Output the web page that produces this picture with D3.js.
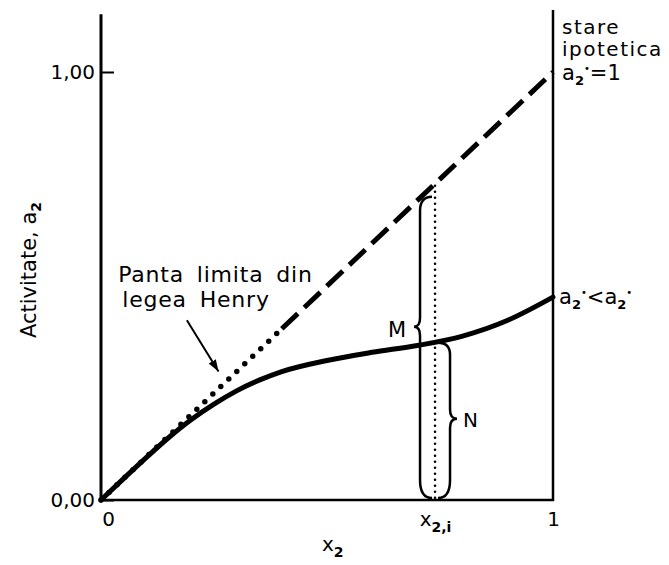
<!DOCTYPE html>
<html>
<head>
<meta charset="utf-8">
<script src="https://cdnjs.cloudflare.com/ajax/libs/d3/7.8.5/d3.min.js"></script>
<style>
  body { margin: 0; background: #fff; }
  text { font-family: "DejaVu Sans", sans-serif; fill: #000; }
</style>
</head>
<body>
<div id="chart"></div>
<script>
var xVals = [0, 0.05, 0.10, 0.15, 0.20, 0.25, 0.30, 0.35, 0.40, 0.50, 0.60, 0.70, 0.80, 0.90, 1.00];
var aVals = [0, 0.05, 0.099, 0.146, 0.188, 0.224, 0.255, 0.28, 0.30, 0.326, 0.345, 0.361, 0.383, 0.420, 0.474];
// Henry limiting slope: dotted part, then dashed part up to the hypothetical state
var henryDotted = [0, 0.40];
var henryDashed = [0.40, 1.00];
var xi = 0.739;          // x2,i
var yTicks = [0, 1];
var xTicks = [0, xi, 1];
var xTickLabels = ["0", "x2,i", "1"];

var width = 669, height = 565;
var svg = d3.select("#chart").append("svg")
    .attr("width", width)
    .attr("height", height);

var x = d3.scaleLinear().domain([0, 1]).range([101, 553]);
var y = d3.scaleLinear().domain([0, 1]).range([500, 72]);

function curveAt(v) {
    var i = d3.bisectRight(xVals, v) - 1;
    var t = (v - xVals[i]) / (xVals[i + 1] - xVals[i]);
    return aVals[i] + t * (aVals[i + 1] - aVals[i]);
}

// axes frame
svg.append("line")
    .attr("x1", x(0)).attr("x2", x(0))
    .attr("y1", y(0) + 1).attr("y2", y(1.135))
    .attr("stroke", "#000").attr("stroke-width", 3);
svg.append("line")
    .attr("x1", x(0) - 1).attr("x2", x(1) + 1)
    .attr("y1", y(0)).attr("y2", y(0))
    .attr("stroke", "#000").attr("stroke-width", 2.5);
svg.append("line")
    .attr("x1", x(1)).attr("x2", x(1))
    .attr("y1", y(0) + 1).attr("y2", y(1.145))
    .attr("stroke", "#000").attr("stroke-width", 2.5);

var yAxis = svg.append("g")
    .attr("transform", "translate(" + x(0) + ",0)")
    .call(d3.axisLeft(y).tickValues(yTicks).tickSize(-13).tickPadding(6)
        .tickFormat(function(d) { return d.toFixed(2).replace(".", ","); }));
yAxis.select(".domain").remove();
yAxis.selectAll("line").attr("stroke", "#000").attr("stroke-width", 2);
yAxis.selectAll("text").style("font-size", "20px").attr("font-family", null);

var xAxis = svg.append("g")
    .attr("transform", "translate(0," + y(0) + ")")
    .call(d3.axisBottom(x).tickValues(xTicks).tickSize(0).tickPadding(12)
        .tickFormat(function(d, i) { return xTickLabels[i]; }));
xAxis.select(".domain").remove();
xAxis.selectAll("text").style("font-size", "20px").attr("font-family", null)
    .each(function(d, i) {
        var t = d3.select(this);
        if (i === 0) t.attr("dx", 7);
        if (xTickLabels[i] === "x2,i") {
            t.text("x");
            t.append("tspan").attr("dy", 6).style("font-size", "14px")
                .style("font-weight", "bold").text("2,i");
        }
    });

// axis titles
var yt = svg.append("text")
    .attr("transform", "translate(36,270) rotate(-90)")
    .attr("text-anchor", "middle")
    .style("font-size", "21px")
    .text("Activitate, a");
yt.append("tspan").attr("dy", 5).style("font-size", "14px").style("font-weight", "bold").text("2");

var xt = svg.append("text")
    .attr("x", 322).attr("y", 551)
    .style("font-size", "20px")
    .text("x");
xt.append("tspan").attr("dy", 6).style("font-size", "14px").style("font-weight", "bold").text("2");

// Henry law line
var henry = d3.line().x(function(d) { return x(d); }).y(function(d) { return y(d); });
svg.append("path")
    .attr("d", henry(henryDotted))
    .attr("fill", "none").attr("stroke", "#000")
    .attr("stroke-width", 5.5).attr("stroke-linecap", "round")
    .attr("stroke-dasharray", "0,11");
svg.append("path")
    .attr("d", henry(henryDashed))
    .attr("fill", "none").attr("stroke", "#000")
    .attr("stroke-width", 5)
    .attr("stroke-dasharray", "22,9");

// real activity curve
var line = d3.line()
    .x(function(d, i) { return x(xVals[i]); })
    .y(function(d) { return y(d); })
    .curve(d3.curveMonotoneX);
svg.append("path")
    .attr("d", line(aVals))
    .attr("fill", "none").attr("stroke", "#000")
    .attr("stroke-width", 5).attr("stroke-linecap", "round");

// vertical dotted line at x2,i
svg.append("line")
    .attr("x1", x(xi)).attr("x2", x(xi))
    .attr("y1", y(xi) + 2).attr("y2", y(0) - 2)
    .attr("stroke", "#000").attr("stroke-width", 2.6)
    .attr("stroke-linecap", "round").attr("stroke-dasharray", "0,6");

// braces M and N
function brace(xs, xh, yTop, yBot, yTip, tipDx, rTop, rBot) {
    var p = d3.path();
    p.moveTo(xh, yTop);
    p.quadraticCurveTo(xs, yTop, xs, yTop + rTop);
    p.lineTo(xs, yTip - 9);
    p.quadraticCurveTo(xs, yTip, xs + tipDx, yTip);
    p.quadraticCurveTo(xs, yTip, xs, yTip + 9);
    p.lineTo(xs, yBot - rBot);
    p.quadraticCurveTo(xs, yBot, xh, yBot);
    return p.toString();
}
var xiPx = x(xi);
svg.append("path")
    .attr("d", brace(xiPx - 15, xiPx - 3, y(xi) + 13, y(0) - 2, y(0.405), -6, 14, 18))
    .attr("fill", "none").attr("stroke", "#000").attr("stroke-width", 2.5);
svg.append("path")
    .attr("d", brace(xiPx + 15, xiPx + 3, y(curveAt(xi)) + 1, y(0) - 2, y(0.19), 7, 12, 18))
    .attr("fill", "none").attr("stroke", "#000").attr("stroke-width", 2.5);

svg.append("text").attr("x", xiPx - 29).attr("y", y(0.38))
    .attr("text-anchor", "end").style("font-size", "21px").text("M");
svg.append("text").attr("x", xiPx + 28).attr("y", y(0.171))
    .style("font-size", "20px").text("N");

// annotation: Henry slope
svg.append("text").attr("x", x(0.038)).attr("y", y(0.51))
    .style("font-size", "22px").style("letter-spacing", "0.8px").style("word-spacing", "5px")
    .text("Panta limita din");
svg.append("text").attr("x", x(0.047)).attr("y", y(0.45))
    .style("font-size", "22px").style("letter-spacing", "0.8px").style("word-spacing", "5px")
    .text("legea Henry");

svg.append("defs").append("marker")
    .attr("id", "head").attr("viewBox", "0 0 10 10")
    .attr("refX", 10).attr("refY", 5)
    .attr("markerWidth", 6).attr("markerHeight", 6)
    .attr("markerUnits", "strokeWidth")
    .attr("orient", "auto")
    .append("path").attr("d", "M0,1.5 L10,5 L0,8.5 Z").attr("fill", "#000");
svg.append("line")
    .attr("x1", x(0.19)).attr("y1", y(0.42))
    .attr("x2", x(0.26)).attr("y2", y(0.30))
    .attr("stroke", "#000").attr("stroke-width", 2)
    .attr("marker-end", "url(#head)");

// right side labels
function activity(g, px, py, rest) {
    var t = g.append("text").attr("x", px).attr("y", py).style("font-size", "21px");
    t.append("tspan").text("a");
    t.append("tspan").attr("dy", 5).style("font-size", "13px").style("font-weight", "bold").text("2");
    t.append("tspan").attr("dy", -13).style("font-size", "10px").text("\u2022");
    t.append("tspan").attr("dy", 8).text(rest);
    return t;
}
svg.append("text").attr("x", x(1) + 9).attr("y", 34).style("font-size", "20px")
    .style("letter-spacing", "1.5px").text("stare");
svg.append("text").attr("x", x(1) + 9).attr("y", 56).style("font-size", "20px")
    .style("letter-spacing", "1.5px").text("ipotetica");
activity(svg, x(1) + 9, 80, "=1");

var lbl = activity(svg, x(1) + 6, y(aVals[aVals.length - 1]) + 7, "<a");
lbl.append("tspan").attr("dy", 5).style("font-size", "13px").style("font-weight", "bold").text("2");
lbl.append("tspan").attr("dy", -13).style("font-size", "10px").text("\u2022");
</script>
</body>
</html>
